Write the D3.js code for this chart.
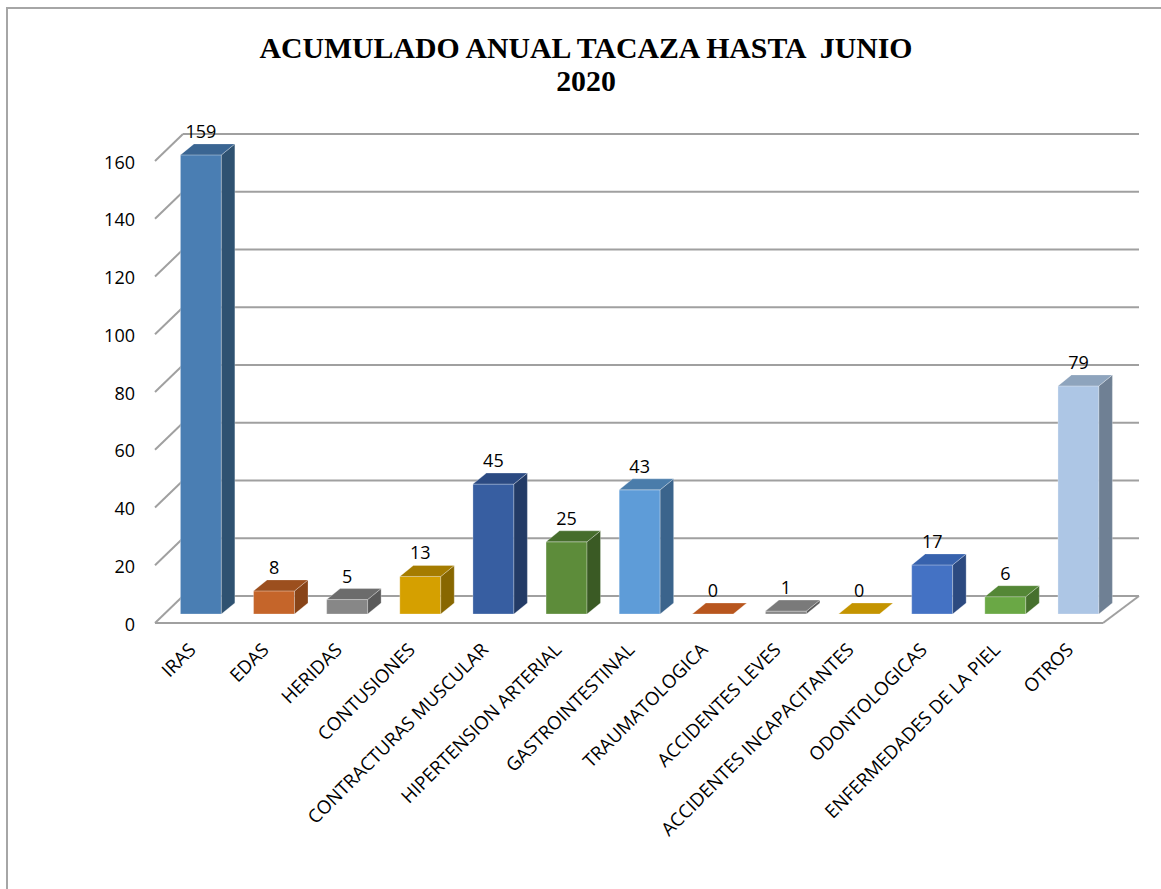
<!DOCTYPE html>
<html>
<head>
<meta charset="utf-8">
<script src="https://cdn.jsdelivr.net/npm/d3@7"></script>
<style>
  html, body { margin: 0; padding: 0; background: #ffffff; }
  svg { display: block; }
</style>
</head>
<body>
<svg id="chart" width="1161" height="889"></svg>
<script>
// Atenciones acumuladas por tipo
const categories = [
  "IRAS", "EDAS", "HERIDAS", "CONTUSIONES", "CONTRACTURAS MUSCULAR",
  "HIPERTENSION ARTERIAL", "GASTROINTESTINAL", "TRAUMATOLOGICA",
  "ACCIDENTES LEVES", "ACCIDENTES INCAPACITANTES", "ODONTOLOGICAS",
  "ENFERMEDADES DE LA PIEL", "OTROS"
];
const values = [159, 8, 5, 13, 45, 25, 43, 0, 1, 0, 17, 6, 79];
const yTicks = [0, 20, 40, 60, 80, 100, 120, 140, 160];
const titleLines = ["ACUMULADO ANUAL TACAZA HASTA  JUNIO", "2020"];

// front / side / top shading for each column
const frontColors = ["#4a7eb3", "#c5652a", "#878787", "#d5a000", "#375ea1", "#5d8c3a", "#5e9cd8",
                     "#c55a1f", "#878787", "#d2a000", "#4472c4", "#6aa845", "#adc6e5"];
const sideColors  = ["#2f5271", "#884418", "#5a5a5a", "#886700", "#233b66", "#3a5a24", "#3b648c",
                     "#884418", "#5a5a5a", "#886700", "#2c4a80", "#46702d", "#6f8094"];
const topColors   = ["#3a6592", "#9c4f1e", "#6c6c6c", "#a57c00", "#2b4a82", "#466d2c", "#4a7caa",
                     "#b8561e", "#7a7a7a", "#c49400", "#3762ad", "#548736", "#8ea4bd"];

const svg = d3.select("#chart");

// outer frame
svg.append("rect")
  .attr("x", 7).attr("y", 8).attr("width", 1200).attr("height", 900)
  .attr("fill", "none").attr("stroke", "#a6a6a6").attr("stroke-width", 2);

// title
const title = svg.append("text")
  .attr("text-anchor", "middle")
  .style("font-family", "'Liberation Serif', 'Times New Roman', serif")
  .style("font-weight", "bold")
  .style("font-size", "29.8px")
  .style("white-space", "pre")
  .attr("fill", "#000");
title.append("tspan").attr("x", 586).attr("y", 58).text(titleLines[0]);
title.append("tspan").attr("x", 586).attr("y", 91).text(titleLines[1]);

// 3D plot geometry: front plane and back plane of the floor
const xFront = d3.scaleBand().domain(categories).range([155, 1103]);
const xBack = d3.scaleBand().domain(categories).range([183, 1139]);
const y = d3.scaleLinear().domain([0, 160]).range([623, 161]);
const depthY = 27;           // vertical shift from front plane to back wall
const barDepth = 1 / 3;      // depth of column front faces (fraction of floor depth)
const barFrac = 0.56;        // column width relative to category band
const barDx = 13.5, barDy = -11; // column thickness offset

const lerp = (a, b, t) => a + (b - a) * t;
const gridColor = "#a0a0a0";
const grid = svg.append("g").attr("stroke", gridColor).attr("stroke-width", 2).attr("fill", "none");

const x0Front = xFront.range()[0], x0Back = xBack.range()[0];
const x1Front = xFront.range()[1], x1Back = xBack.range()[1];

// back wall gridlines + side wall slants
yTicks.forEach(v => {
  grid.append("line")
    .attr("x1", x0Back).attr("x2", x1Back)
    .attr("y1", y(v) - depthY).attr("y2", y(v) - depthY);
  grid.append("line")
    .attr("x1", x0Front).attr("y1", y(v))
    .attr("x2", x0Back).attr("y2", y(v) - depthY);
});
// floor front edge and right edge
grid.append("line")
  .attr("x1", x0Front).attr("x2", x1Front)
  .attr("y1", y(0)).attr("y2", y(0));
grid.append("line")
  .attr("x1", x1Front).attr("y1", y(0))
  .attr("x2", x1Back).attr("y2", y(0) - depthY);

const font = "'Open Sans', 'Noto Sans', sans-serif";

// value axis labels
svg.append("g").selectAll("text")
  .data(yTicks).join("text")
  .attr("x", 135).attr("y", d => y(d) + 7.5)
  .attr("text-anchor", "end")
  .style("font-family", font).style("font-size", "18px")
  .attr("fill", "#000")
  .text(d => d);

// columns
const bars = svg.append("g");
categories.forEach((c, i) => {
  const bandX = lerp(xFront(c), xBack(c), barDepth);
  const bw = lerp(xFront.bandwidth(), xBack.bandwidth(), barDepth);
  const fw = bw * barFrac;
  const left = bandX + (bw - fw) / 2;
  const right = left + fw;
  const base = y(0) - depthY * barDepth;
  const top = y(values[i]) - depthY * barDepth;
  const g = bars.append("g").attr("stroke", "rgba(255,255,255,0.35)").attr("stroke-width", 0.8)
    .attr("stroke-linejoin", "round");

  if (values[i] > 0) {
    g.append("rect")
      .attr("x", left).attr("y", top).attr("width", fw).attr("height", base - top)
      .attr("fill", frontColors[i]);
    g.append("path")
      .attr("d", `M${right},${top}L${right + barDx},${top + barDy}L${right + barDx},${base + barDy}L${right},${base}Z`)
      .attr("fill", sideColors[i]);
  }
  g.append("path")
    .attr("d", `M${left},${top}L${left + barDx},${top + barDy}L${right + barDx},${top + barDy}L${right},${top}Z`)
    .attr("fill", topColors[i]);

  // value label
  svg.append("text")
    .attr("x", (left + right) / 2).attr("y", top - 17)
    .attr("text-anchor", "middle")
    .style("font-family", font).style("font-size", "18px")
    .attr("fill", "#000")
    .text(values[i]);

  // category label
  const cx = (left + right) / 2 - 4;
  svg.append("text")
    .attr("transform", `translate(${cx},651) rotate(-45)`)
    .attr("text-anchor", "end")
    .style("font-family", font).style("font-size", "18.6px")
    .attr("fill", "#000")
    .text(c);
});
</script>
</body>
</html>
